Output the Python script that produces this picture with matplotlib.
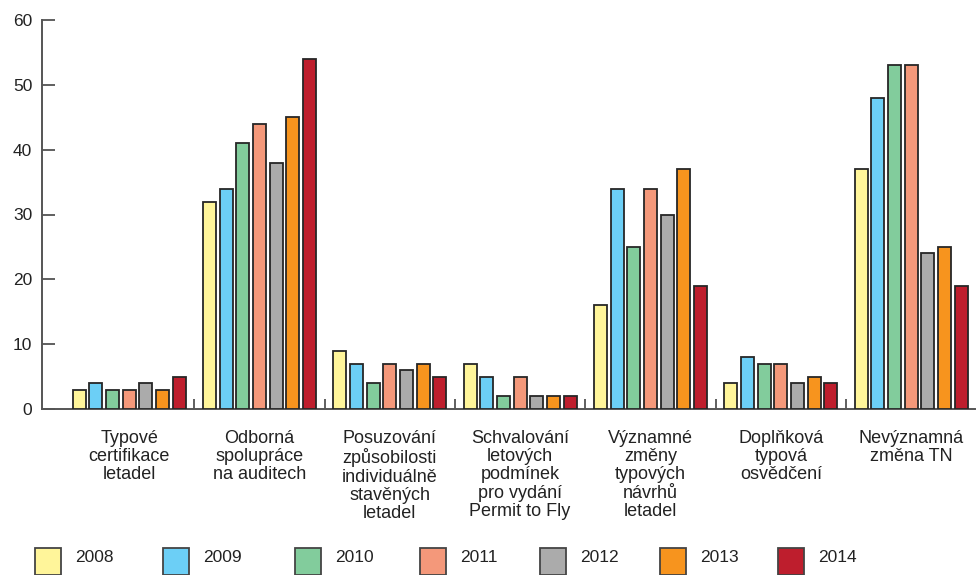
import matplotlib
matplotlib.use("Agg")
import matplotlib.pyplot as plt
from matplotlib.patches import Rectangle
import numpy as np

plt.rcParams['font.family'] = ['Liberation Sans', 'DejaVu Sans']

categories = [
    "Typové\ncertifikace\nletadel",
    "Odborná\nspolupráce\nna auditech",
    "Posuzování\nzpůsobilosti\nindividuálně\nstavěných\nletadel",
    "Schvalování\nletových\npodmínek\npro vydání\nPermit to Fly",
    "Významné\nzměny\ntypových\nnávrhů\nletadel",
    "Doplňková\ntypová\nosvědčení",
    "Nevýznamná\nzměna TN",
]
years = ["2008", "2009", "2010", "2011", "2012", "2013", "2014"]
v2008 = [3, 32, 9, 7, 16, 4, 37]
v2009 = [4, 34, 7, 5, 34, 8, 48]
v2010 = [3, 41, 4, 2, 25, 7, 53]
v2011 = [3, 44, 7, 5, 34, 7, 53]
v2012 = [4, 38, 6, 2, 30, 4, 24]
v2013 = [3, 45, 7, 2, 37, 5, 25]
v2014 = [5, 54, 5, 2, 19, 4, 19]
series = [v2008, v2009, v2010, v2011, v2012, v2013, v2014]
colors = ["#FFF59A", "#6CCFF6", "#82CC9C", "#F4987A", "#ABABAB", "#F7941E", "#BE1E2D"]
yticks = [0, 10, 20, 30, 40, 50, 60]

W, H = 978, 575
fig = plt.figure(figsize=(W / 100, H / 100), dpi=100)
ax = fig.add_axes([42 / W, 1 - 409 / H, (975 - 42) / W, (409 - 20) / H])

x = np.arange(len(categories))
pitch = 0.128
bw = 0.100
for i, (vals, c) in enumerate(zip(series, colors)):
    ax.bar(x + (i - 3) * pitch, vals, width=bw, color=c,
           edgecolor="#262626", linewidth=1.3, zorder=3)

ax.set_xlim(-0.668, 6.49)
ax.set_ylim(0, 60)
ax.set_yticks(yticks)
ax.set_yticklabels([str(t) for t in yticks], fontsize=12.5, color="#222222")
ax.tick_params(axis="y", direction="in", length=9, width=1.2, color="#444444", pad=7)

ax.set_xticks(x)
ax.set_xticklabels(categories, fontsize=13, color="#222222", linespacing=1.1)
ax.tick_params(axis="x", which="major", length=0, pad=15)
ax.set_xticks(np.arange(0.5, 6.0, 1.0), minor=True)
ax.tick_params(axis="x", which="minor", direction="in", length=7, width=1.2, color="#444444")

for s in ["top", "right"]:
    ax.spines[s].set_visible(False)
for s in ["left", "bottom"]:
    ax.spines[s].set_color("#555555")
    ax.spines[s].set_linewidth(1.4)

# legend drawn along the bottom of the figure
px = [35, 163, 295, 420, 540, 660, 778]
for xp, c, yr in zip(px, colors, years):
    fig.patches.append(Rectangle((xp / W, 0), 26 / W, (575 - 548) / H,
                                 transform=fig.transFigure, facecolor=c,
                                 edgecolor="#444444", linewidth=1.3))
    fig.text((xp + 40) / W, 1 - 557 / H, yr, fontsize=12.5, color="#222222",
             va="center", ha="left")

fig.savefig("out.png", dpi=100)
